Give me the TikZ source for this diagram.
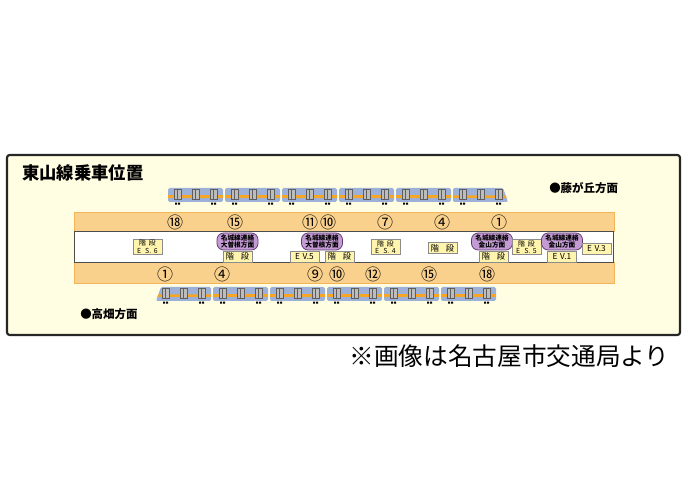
\documentclass[tikz,border=0pt]{standalone}
\usepackage{fontspec}
\setmainfont{Noto Sans CJK JP}
\definecolor{cream}{HTML}{FFFDE2}
\definecolor{band}{HTML}{FAD18C}
\definecolor{bandline}{HTML}{F4B458}
\definecolor{carblue}{HTML}{9DB1D8}
\definecolor{stripe}{HTML}{F6A624}
\definecolor{doordark}{HTML}{5E5E5E}
\definecolor{doorlite}{HTML}{BDBDBD}
\definecolor{boxfill}{HTML}{FFF5AE}
\definecolor{boxline}{HTML}{8C8C8C}
\definecolor{pillfill}{HTML}{C59BD6}
\definecolor{pillline}{HTML}{5B3B6B}
% doors and wheels of one car
\newcommand\cardetail{
  \foreach \d in {6,24,42}{
    \fill[doordark] (\d,1.5) rectangle ++(7.5,11);
    \fill[doorlite] (\d+1,2.5) rectangle ++(2.3,9);
    \fill[doorlite] (\d+4.2,2.5) rectangle ++(2.3,9);
  }
  \fill[black] (7,14.6) rectangle ++(2.2,2) (10,14.6) rectangle ++(2.2,2)
               (43,14.6) rectangle ++(2.2,2) (46,14.6) rectangle ++(2.2,2);
}
\tikzset{
  railcar/.pic={
    \fill[carblue, rounded corners=1.2pt] (0,0) rectangle (55,14);
    \fill[stripe] (0,7.5) rectangle (55,10);
    \cardetail
  },
  headcarR/.pic={
    \fill[carblue, rounded corners=1pt] (0,0) -- (50,0) -- (55,14) -- (0,14) -- cycle;
    \fill[stripe] (0,7.5) -- (52.7,7.5) -- (53.6,10) -- (0,10) -- cycle;
    \cardetail
  },
  headcarL/.pic={
    \fill[carblue, rounded corners=1pt] (5,0) -- (55,0) -- (55,14) -- (0,14) -- cycle;
    \fill[stripe] (2.3,7.5) -- (55,7.5) -- (55,10) -- (1.4,10) -- cycle;
    \cardetail
  },
  lblbox/.style={draw=boxline, fill=boxfill, line width=0.6pt, inner sep=0pt,
    minimum width=21.75pt, minimum height=8.25pt, font=\fontsize{6.2}{6.2}\selectfont},
  esbox/.style={lblbox, minimum height=11.25pt, align=center,
    font=\fontsize{5.2}{5.6}\selectfont},
  pill/.style={draw=pillline, fill=pillfill, line width=0.6pt, rounded corners=5pt,
    minimum width=30.75pt, minimum height=12.75pt, inner sep=0pt, align=center,
    font=\bfseries\fontsize{5}{5.6}\selectfont},
  num/.style={inner sep=0pt, font=\fontsize{12}{12}\selectfont},
}
\begin{document}
\begin{tikzpicture}[x=0.75pt, y=-0.75pt]
  \useasboundingbox[fill=white] (0,0) rectangle (690,488);
  % frame
  \draw[line width=1.6pt, draw=black!85, fill=cream, rounded corners=2pt] (7,155) rectangle (680,335);
  \node[anchor=west, inner sep=0pt, font=\bfseries\fontsize{13}{13}\selectfont] (title) at (22,173) {東山線乗車位置};
  \node[anchor=west, inner sep=0pt, font=\bfseries\fontsize{8.6}{8.6}\selectfont] (fujigaoka) at (549,188) {●藤が丘方面};
  \node[anchor=west, inner sep=0pt, font=\bfseries\fontsize{8.6}{8.6}\selectfont] (takabata) at (80,314) {●高畑方面};
  % platform
  \fill[band, draw=bandline, line width=0.6pt] (74,212) rectangle (614,231);
  \fill[band, draw=bandline, line width=0.6pt] (74,262) rectangle (614,283);
  \fill[white, draw=black!70, line width=0.7pt] (74,231) rectangle (613,262);
  % trains
  \foreach \i in {0,...,4}
    \pic at ({168+57*\i},188) {railcar};
  \pic at (453,188) {headcarR};
  \pic at (156,287) {headcarL};
  \foreach \i in {0,...,4}
    \pic at ({213+57*\i},287) {railcar};
  % car numbers
  \node[num] (u18) at (175,222) {⑱};
  \node[num] (u15) at (235,222) {⑮};
  \node[num] (u11) at (310,222) {⑪};
  \node[num] (u10) at (328,222) {⑩};
  \node[num] (u7) at (385,222) {⑦};
  \node[num] (u4) at (442,222) {④};
  \node[num] (u1) at (499,222) {①};
  \node[num] (d1) at (165,274) {①};
  \node[num] (d4) at (222,274) {④};
  \node[num] (d9) at (315,274) {⑨};
  \node[num] (d10) at (337,274) {⑩};
  \node[num] (d12) at (373,274) {⑫};
  \node[num] (d15) at (429,274) {⑮};
  \node[num] (d18) at (487,274) {⑱};
  % stairs, escalators, lifts
  \node[esbox] (es6) at (147.5,246.5) {階\hspace{2pt}段\\E\hspace{3pt}S.\hspace{2pt}6};
  \node[pill] (meijoA) at (237.5,241.5) {名城線連絡\\大曽根方面};
  \node[lblbox] (stairA) at (237.5,256.5) {階\hspace{5pt}段};
  \node[lblbox] (ev5) at (304.5,256.5) {E\hspace{2pt}V.5};
  \node[pill] (meijoB) at (322,241.5) {名城線連絡\\大曽根方面};
  \node[lblbox] (stairB) at (339.5,256.5) {階\hspace{5pt}段};
  \node[esbox] (es4) at (385.5,247) {階\hspace{2pt}段\\E\hspace{3pt}S.\hspace{2pt}4};
  \node[lblbox] (stairC) at (442.5,248) {階\hspace{5pt}段};
  \node[pill] (meijoC) at (492,241.5) {名城線連絡\\金山方面};
  \node[lblbox] (stairD) at (493.5,256.5) {階\hspace{5pt}段};
  \node[esbox] (es5) at (526.5,247) {階\hspace{2pt}段\\E\hspace{3pt}S.\hspace{2pt}5};
  \node[pill] (meijoD) at (562,241.5) {名城線連絡\\金山方面};
  \node[lblbox] (ev1) at (562,256.5) {E\hspace{2pt}V.1};
  \node[lblbox] (ev3) at (596.5,248.5) {E\hspace{2pt}V.3};
  % source
  \node[inner sep=0pt, font=\fontsize{18.5}{18.5}\selectfont] (source) at (509.5,356) {※画像は名古屋市交通局より};
\end{tikzpicture}
\end{document}
